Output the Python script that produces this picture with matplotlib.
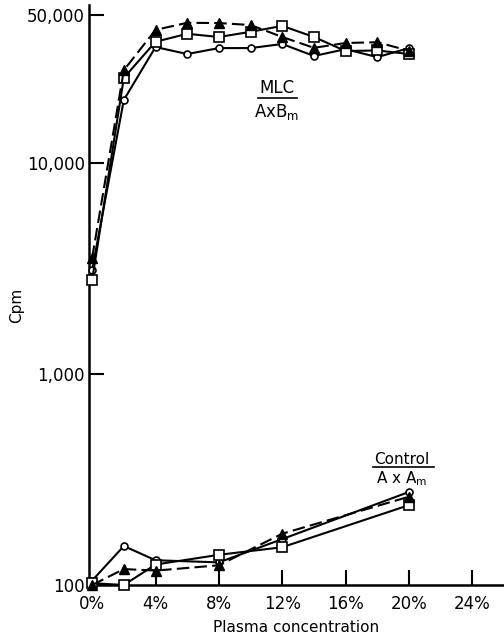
import matplotlib
matplotlib.use('Agg')
import matplotlib.pyplot as plt
from matplotlib.ticker import FixedLocator, NullLocator

# ---- data (Cpm vs plasma concentration, %) ----
conc_mlc = [0, 2, 4, 6, 8, 10, 12, 14, 16, 18, 20]
mlc_tri = [3550, 27500, 42700, 46100, 46000, 45000, 39500, 35100, 37000, 37300, 34000]
mlc_sq = [2790, 25300, 37500, 40900, 39500, 41800, 44600, 39500, 33900, 34100, 32800]
mlc_circ = [3110, 19900, 35400, 32800, 35000, 35000, 36600, 32100, 34600, 31700, 35000]

conc_ctl = [0, 2, 4, 8, 12, 20]
ctl_tri = [100, 119, 117, 124, 175, 262]
ctl_sq = [102, 100, 125, 139, 151, 239]
ctl_circ = [105, 153, 131, 128, 165, 276]

x_ticks = [0, 4, 8, 12, 16, 20, 24]
x_labels = ['0%', '4%', '8%', '12%', '16%', '20%', '24%']
y_ticks = [100, 1000, 10000, 50000]
y_labels = ['100', '1,000', '10,000', '50,000']

fig = plt.figure(figsize=(5.04, 6.4), dpi=100)
ax = fig.add_axes([89 / 504, 1 - 585 / 640, 415 / 504, 580 / 640])

lw = 1.5
for conc, tri, sq, circ in [(conc_mlc, mlc_tri, mlc_sq, mlc_circ),
                            (conc_ctl, ctl_tri, ctl_sq, ctl_circ)]:
    ax.plot(conc, circ, '-', color='k', lw=lw, marker='o', ms=5,
            mfc='white', mec='k', mew=1.2, clip_on=False, zorder=3)
    ax.plot(conc, sq, '-', color='k', lw=lw, marker='s', ms=6.5,
            mfc='white', mec='k', mew=1.2, clip_on=False, zorder=4)
    ax.plot(conc, tri, '--', color='k', lw=lw, marker='^', ms=7,
            mfc='k', mec='k', dashes=(6, 2.5), clip_on=False, zorder=5)

ax.set_yscale('log')
ax.set_ylim(100, 56000)
ax.set_xlim(-0.2, 26)

ax.yaxis.set_major_locator(FixedLocator(y_ticks))
ax.yaxis.set_minor_locator(NullLocator())
ax.set_yticklabels(y_labels)
ax.set_xticks(x_ticks)
ax.set_xticklabels(x_labels)
ax.xaxis.get_major_ticks()[0].tick1line.set_visible(False)

ax.tick_params(axis='both', direction='in', length=11, width=1.5,
               labelsize=12, colors='k')
ax.tick_params(axis='y', pad=3)
ax.tick_params(axis='x', pad=7)

for side in ['top', 'right']:
    ax.spines[side].set_visible(False)
for side in ['left', 'bottom']:
    ax.spines[side].set_linewidth(1.8)

ax.set_xlabel('Plasma concentration', fontsize=11, labelpad=5)
fig.text(17 / 504, 1 - 305 / 640, 'Cpm', rotation=90, ha='center', va='center', fontsize=11)

# group labels
ax.text(0.453, 0.857, 'MLC', transform=ax.transAxes, ha='center', va='center', fontsize=12)
ax.plot([0.407, 0.501], [0.840, 0.840], transform=ax.transAxes, color='k', lw=1.2)
ax.text(0.453, 0.816, r'AxB$_\mathregular{m}$', transform=ax.transAxes,
        ha='center', va='center', fontsize=12)

ax.text(0.754, 0.216, 'Control', transform=ax.transAxes, ha='center', va='center', fontsize=11)
ax.plot([0.684, 0.831], [0.203, 0.203], transform=ax.transAxes, color='k', lw=1.2)
ax.text(0.754, 0.183, r'A x A$_\mathregular{m}$', transform=ax.transAxes,
        ha='center', va='center', fontsize=11)

fig.savefig('out.png', dpi=100)
